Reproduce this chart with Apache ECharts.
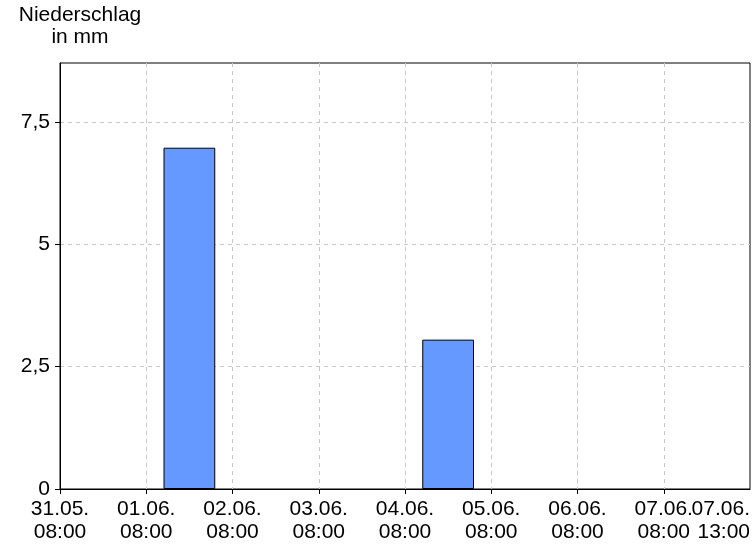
<!DOCTYPE html>
<html>
<head>
<meta charset="utf-8">
<script src="https://cdn.jsdelivr.net/npm/echarts@6/dist/echarts.min.js"></script>
<style>html,body{margin:0;padding:0;background:#fff}#c{width:756px;height:546px}</style>
</head>
<body>
<div id="c"></div>
<script>
const tickLabels = ['31.05.\n08:00','01.06.\n08:00','02.06.\n08:00','03.06.\n08:00','04.06.\n08:00','05.06.\n08:00','06.06.\n08:00','07.06.\n08:00','07.06.\n13:00'];
const dailyPrecip = [0, 6.97, 0, 0, 3.05, 0, 0, 0];
const yTicks = [0, 2.5, 5, 7.5];
const titleText = 'Niederschlag\nin mm';

const FONT = 'Liberation Sans';
const chart = echarts.init(document.getElementById('c'), null, {renderer: 'canvas'});
const xTickVals = dailyPrecip.map((v, i) => i);
const lastIdx = tickLabels.length - 1;
const labelStyle = {color: '#000', fontFamily: FONT, fontSize: 21, lineHeight: 23, margin: 9,
  showMinLabel: true, showMaxLabel: true, hideOverlap: false};
chart.setOption({
  animation: false,
  backgroundColor: '#fff',
  graphic: [{
    type: 'text', x: 80, y: 4,
    style: {text: titleText, textAlign: 'center', font: '21px "' + FONT + '"', lineHeight: 22, fill: '#000'}
  }],
  grid: {left: 60, right: 6, top: 63, bottom: 57, show: true, borderColor: '#000', borderWidth: 1,
    containLabel: false, outerBoundsMode: 'none'},
  xAxis: [{
    type: 'value', min: 0, max: lastIdx, interval: 1,
    axisLine: {show: true, lineStyle: {color: '#000'}},
    axisTick: {show: true, length: 5, lineStyle: {color: '#000'}, customValues: xTickVals},
    axisLabel: Object.assign({customValues: xTickVals, formatter: v => tickLabels[Math.round(v)]}, labelStyle),
    splitLine: {show: true, lineStyle: {color: '#c8c8c8', type: [4, 4]}}
  }, {
    type: 'value', min: 0, max: lastIdx, interval: 1, position: 'bottom', offset: 0,
    axisLine: {show: false}, axisTick: {show: false}, splitLine: {show: false},
    axisLabel: Object.assign({customValues: [lastIdx], formatter: v => tickLabels[Math.round(v)], align: 'right'}, labelStyle)
  }],
  yAxis: {
    type: 'value', min: 0, max: 8.7, interval: 2.5,
    axisLine: {show: true, lineStyle: {color: '#000'}},
    axisTick: {show: true, length: 5, lineStyle: {color: '#000'}, customValues: yTicks},
    axisLabel: {
      customValues: yTicks,
      formatter: v => String(v).replace('.', ','),
      color: '#000', fontFamily: FONT, fontSize: 21, margin: 10
    },
    splitLine: {show: true, lineStyle: {color: '#c8c8c8', type: [4, 4]}}
  },
  series: [{
    type: 'bar',
    xAxisIndex: 0,
    barWidth: '60%',
    data: dailyPrecip.map((v, i) => [i + 0.5, v === 0 ? '-' : v]),
    itemStyle: {color: '#6699ff', borderColor: '#000', borderWidth: 1}
  }]
});
</script>
</body>
</html>
